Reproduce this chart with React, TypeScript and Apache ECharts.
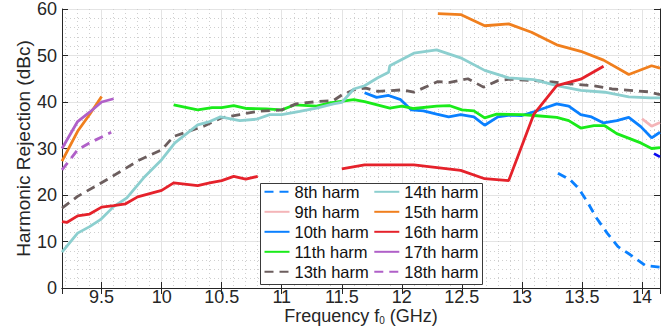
import { useEffect, useRef } from "react";
import * as echarts from "echarts";

// ---- data (frequency in GHz, rejection in dBc) ----
const h8Freq = [13.3, 13.4, 13.47, 13.55, 13.62, 13.71, 13.8, 13.9, 14.03, 14.15];
const h8Val = [24.7, 23.3, 21.5, 18.3, 15.1, 11.8, 8.9, 7.2, 4.8, 4.5];

const h9Freq = [14.0, 14.08, 14.15];
const h9Val = [36.4, 34.8, 35.6];

const h10Freq = [11.69, 11.79, 11.89, 11.99, 12.08, 12.18, 12.29, 12.39, 12.49, 12.6, 12.69, 12.8, 12.9, 13.0, 13.1, 13.19, 13.29, 13.39, 13.49, 13.58, 13.68, 13.79, 13.89, 13.99, 14.08, 14.15];
const h10Val = [42.0, 41.0, 41.4, 40.5, 38.3, 38.1, 37.4, 36.8, 37.3, 36.8, 35.0, 36.8, 37.2, 37.1, 37.9, 38.7, 39.6, 39.1, 37.3, 36.8, 35.5, 36.0, 36.7, 34.7, 32.3, 33.5];

const h11Freq = [10.1, 10.3, 10.42, 10.5, 10.6, 10.71, 10.87, 11.0, 11.11, 11.29, 11.4, 11.6, 11.69, 11.9, 12.0, 12.1, 12.29, 12.4, 12.5, 12.6, 12.69, 12.79, 13.0, 13.1, 13.29, 13.39, 13.49, 13.6, 13.69, 13.79, 13.99, 14.08, 14.15];
const h11Val = [39.4, 38.3, 38.8, 38.8, 39.2, 38.6, 38.5, 38.3, 39.4, 39.1, 39.8, 40.5, 40.1, 38.7, 39.1, 38.6, 39.1, 39.2, 38.3, 38.1, 36.6, 37.4, 37.3, 37.1, 36.7, 36.0, 34.4, 34.9, 34.9, 33.2, 31.2, 30.0, 30.2];

const h12Freq = [14.1, 14.15];
const h12Val = [28.9, 28.2];

const h13Freq = [9.17, 9.3, 9.57, 9.82, 10.0, 10.1, 10.35, 10.5, 10.65, 10.8, 11.0, 11.12, 11.3, 11.43, 11.5, 11.6, 11.7, 11.8, 12.0, 12.1, 12.3, 12.4, 12.55, 12.68, 12.8, 12.9, 13.1, 13.25, 13.4, 13.6, 13.75, 13.9, 14.05, 14.15];
const h13Val = [17.2, 19.7, 23.7, 27.6, 29.7, 32.6, 34.8, 36.6, 37.3, 38.0, 38.3, 39.6, 40.1, 40.3, 41.5, 42.6, 43.0, 42.3, 42.6, 42.1, 44.4, 44.2, 45.0, 43.2, 44.6, 44.9, 44.6, 44.3, 43.9, 43.5, 42.8, 42.5, 42.2, 41.6];

const h14Freq = [9.17, 9.3, 9.4, 9.49, 9.6, 9.71, 9.85, 10.0, 10.11, 10.3, 10.4, 10.49, 10.65, 10.79, 10.9, 11.0, 11.15, 11.29, 11.43, 11.5, 11.6, 11.69, 11.8, 11.89, 11.9, 12.1, 12.29, 12.49, 12.69, 12.89, 13.1, 13.29, 13.49, 13.69, 13.89, 14.07, 14.15];
const h14Val = [7.7, 11.8, 13.2, 14.7, 17.5, 19.4, 23.7, 27.6, 31.2, 35.1, 35.8, 36.8, 36.0, 36.3, 37.3, 37.3, 38.0, 38.7, 39.6, 39.9, 42.8, 43.5, 45.2, 46.4, 47.8, 50.5, 51.2, 49.5, 46.8, 45.2, 44.8, 43.5, 42.5, 42.1, 41.1, 40.9, 40.9];

const h15aFreq = [9.17, 9.3, 9.4, 9.5];
const h15aVal = [27.3, 33.7, 37.3, 41.2];
const h15bFreq = [12.3, 12.49, 12.69, 12.89, 13.08, 13.29, 13.49, 13.68, 13.89, 14.08, 14.15];
const h15bVal = [59.0, 58.8, 56.4, 56.8, 55.0, 52.3, 50.9, 49.0, 45.9, 47.8, 47.3];

const h16aFreq = [9.17, 9.21, 9.3, 9.4, 9.5, 9.6, 9.7, 9.8, 9.9, 10.0, 10.1, 10.3, 10.4, 10.5, 10.6, 10.7, 10.8];
const h16aVal = [14.3, 14.1, 15.5, 15.9, 17.4, 17.7, 18.1, 19.6, 20.3, 21.0, 22.6, 22.0, 22.6, 23.1, 24.0, 23.4, 24.0];
const h16bFreq = [11.5, 11.69, 12.1, 12.49, 12.69, 12.89, 13.1, 13.29, 13.49, 13.68];
const h16bVal = [25.6, 26.5, 26.5, 25.3, 23.5, 23.1, 37.4, 43.5, 44.9, 47.7];

const h17Freq = [9.17, 9.3, 9.4, 9.5, 9.6];
const h17Val = [30.0, 35.8, 37.8, 40.0, 40.7];

const h18Freq = [9.17, 9.3, 9.4, 9.58];
const h18Val = [25.4, 29.7, 31.2, 33.5];

const legendCol1 = ["8th harm", "9th harm", "10th harm", "11th harm", "13th harm"];
const legendCol2 = ["14th harm", "15th harm", "16th harm", "17th harm", "18th harm"];

const FONT = "'Liberation Sans', Arial, Helvetica, sans-serif";
const INK = "#262626";

const zip = (f: number[], v: number[]) => f.map((x, i) => [x, v[i]]);

function line(name: string, f: number[], v: number[], color: string, dashed = false) {
  return {
    name,
    type: "line",
    data: zip(f, v),
    symbol: "none",
    showSymbol: false,
    smooth: false,
    clip: true,
    z: 2,
    color,
    itemStyle: { color },
    lineStyle: { color, width: 2.8, type: dashed ? [9, 6] : "solid", cap: "butt" },
    emphasis: { disabled: true },
  };
}

// legend box geometry (layout only)
const LBOX = { x: 260, y: 183, w: 222, h: 101 };
const ROW = 20;
const COLX = [263.5, 373.3];

function legendItem(name: string, col: number, row: number) {
  return {
    data: [name],
    orient: "vertical",
    left: COLX[col],
    top: LBOX.y + 0.3 + row * ROW,
    itemWidth: 25,
    itemHeight: 20,
    itemGap: 0,
    padding: 0,
    z: 10,
    selectedMode: false,
    backgroundColor: "transparent",
    borderWidth: 0,
    itemStyle: { opacity: 0, borderWidth: 0 },
    textStyle: { fontSize: 16.5, color: "#111111", fontFamily: FONT },
  };
}

export default function App() {
  const ref = useRef<HTMLDivElement>(null);
  useEffect(() => {
    const chart = echarts.init(ref.current!, null, { renderer: "svg" });
    const xBase = {
      type: "value",
      min: 9.17,
      max: 14.15,
      splitNumber: 10,
    };
    chart.setOption({
      animation: false,
      backgroundColor: "#ffffff",
      textStyle: { fontFamily: FONT },
      grid: { left: 62, right: 1, top: 9, bottom: 40, containLabel: false, outerBoundsMode: "none" },
      xAxis: [
        {
          ...xBase,
          position: "bottom",
          name: "Frequency f{sub|0} (GHz)",
          nameLocation: "middle",
          nameGap: 19,
          nameMoveOverlap: false,
          nameTextStyle: {
            fontSize: 18,
            lineHeight: 18,
            color: INK,
            fontFamily: FONT,
            rich: { sub: { fontSize: 10, lineHeight: 10, verticalAlign: "bottom", color: INK, fontFamily: FONT } },
          },
          axisLine: { show: true, lineStyle: { color: INK, width: 1 } },
          axisTick: { show: true, inside: true, length: 6, lineStyle: { color: INK } },
          axisLabel: { fontSize: 18, lineHeight: 16, color: INK, margin: 1, showMinLabel: false, showMaxLabel: false, fontFamily: FONT },
          splitLine: { show: true, lineStyle: { color: "#e4e4e4", width: 1 } },
          minorTick: { show: false, splitNumber: 5 },
          minorSplitLine: { show: true, lineStyle: { color: "#cfcfcf", width: 1, type: [1, 3] } },
        },
        {
          ...xBase,
          position: "top",
          axisLine: { show: true, lineStyle: { color: INK, width: 1 } },
          axisTick: { show: true, inside: true, length: 6, lineStyle: { color: INK } },
          axisLabel: { show: false },
          splitLine: { show: false },
        },
      ],
      yAxis: [
        {
          type: "value",
          min: 0,
          max: 60,
          interval: 10,
          position: "left",
          name: "Harmonic Rejection (dBc)",
          nameLocation: "middle",
          nameGap: 29,
          nameMoveOverlap: false,
          nameTextStyle: { fontSize: 19, color: INK, fontFamily: FONT },
          axisLine: { show: true, lineStyle: { color: INK, width: 1 } },
          axisTick: { show: true, inside: true, length: 6, lineStyle: { color: INK } },
          axisLabel: { fontSize: 18, color: INK, margin: 5, fontFamily: FONT },
          splitLine: { show: true, lineStyle: { color: "#e4e4e4", width: 1 } },
          minorTick: { show: false, splitNumber: 5 },
          minorSplitLine: { show: true, lineStyle: { color: "#cfcfcf", width: 1, type: [1, 3] } },
        },
        {
          type: "value",
          min: 0,
          max: 60,
          interval: 10,
          position: "right",
          axisLine: { show: true, lineStyle: { color: INK, width: 1 } },
          axisTick: { show: true, inside: true, length: 6, lineStyle: { color: INK } },
          axisLabel: { show: false },
          splitLine: { show: false },
        },
      ],
      graphic: [
        {
          type: "rect",
          z: 5,
          shape: { x: LBOX.x + 0.5, y: LBOX.y + 0.5, width: LBOX.w, height: LBOX.h },
          style: { fill: "#ffffff", stroke: "#3a3a3a", lineWidth: 1 },
          silent: true,
        },
      ],
      legend: [
        ...legendCol1.map((n, i) => legendItem(n, 0, i)),
        ...legendCol2.map((n, i) => legendItem(n, 1, i)),
      ],
      series: [
        line("8th harm", h8Freq, h8Val, "#0a80ff", true),
        line("9th harm", h9Freq, h9Val, "#f4b5b8"),
        line("10th harm", h10Freq, h10Val, "#0a80ff"),
        line("11th harm", h11Freq, h11Val, "#1aeb1a"),
        line("12th harm", h12Freq, h12Val, "#0a0af0"),
        line("13th harm", h13Freq, h13Val, "#6c5e5e", true),
        line("14th harm", h14Freq, h14Val, "#8ccfcf"),
        line("15th harm", h15aFreq, h15aVal, "#f07f1e"),
        line("15th harm", h15bFreq, h15bVal, "#f07f1e"),
        line("16th harm", h16aFreq, h16aVal, "#e5222b"),
        line("16th harm", h16bFreq, h16bVal, "#e5222b"),
        line("17th harm", h17Freq, h17Val, "#b060c8"),
        line("18th harm", h18Freq, h18Val, "#b060c8", true),
      ],
    });
    return () => chart.dispose();
  }, []);
  return <div ref={ref} style={{ position: "fixed", left: 0, top: 0, width: 661, height: 328 }} />;
}
